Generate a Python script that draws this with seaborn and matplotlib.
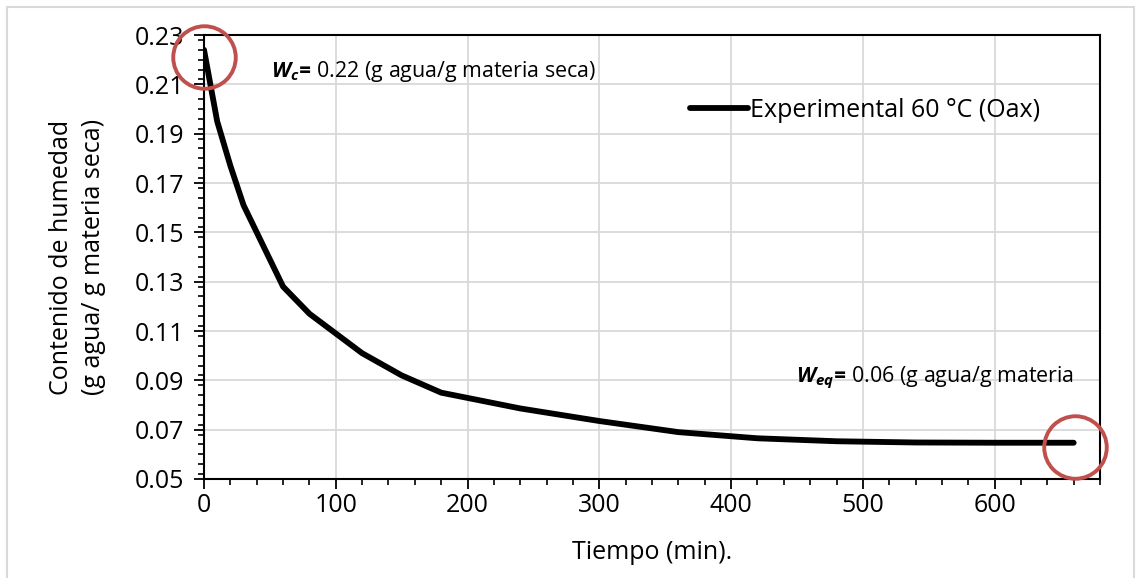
import matplotlib
matplotlib.use("Agg")
import matplotlib.pyplot as plt
import numpy as np
import pandas as pd
import seaborn as sns
from matplotlib.patches import Rectangle
from matplotlib.ticker import MultipleLocator, FormatStrFormatter

# Data
tiempo = [0, 10, 20, 30, 60, 80, 120, 150, 180, 240, 300, 360, 420, 480, 540, 600, 660]
humedad = [0.224, 0.195, 0.177, 0.161, 0.128, 0.117, 0.101, 0.092, 0.085, 0.0786,
           0.0735, 0.069, 0.0665, 0.0653, 0.0648, 0.0647, 0.0647]
circulo_t = [0, 661]
circulo_w = [0.221, 0.0629]
serie = "Experimental 60 °C (Oax)"

df = pd.DataFrame({"Tiempo": tiempo, "Humedad": humedad, "Serie": serie})

sns.set_style("white")
FONT = "Open Sans"
plt.rcParams["font.family"] = [FONT, "DejaVu Sans"]
plt.rcParams["text.color"] = "black"
plt.rcParams["axes.labelcolor"] = "black"
plt.rcParams["mathtext.fontset"] = "custom"
plt.rcParams["mathtext.rm"] = FONT
plt.rcParams["mathtext.it"] = FONT + ":italic"
plt.rcParams["mathtext.bf"] = FONT + ":bold"
plt.rcParams["mathtext.bfit"] = FONT + ":italic:bold"

fig = plt.figure(figsize=(11.41, 5.78), dpi=100)
ax = fig.add_axes([0.1788, 0.1713, 0.9641 - 0.1788, 0.9394 - 0.1713])

sns.lineplot(data=df, x="Tiempo", y="Humedad", hue="Serie", palette=["black"],
             linewidth=4.2, ax=ax, solid_capstyle="round")

ax.plot(circulo_t, circulo_w, linestyle="none", marker="o", markersize=45,
        markerfacecolor="none", markeredgecolor="#C0504D", markeredgewidth=2.8,
        clip_on=False, zorder=5)

ax.set_xlim(0, 680)
ax.set_ylim(0.05, 0.23)
ax.xaxis.set_minor_locator(MultipleLocator(20))
ax.yaxis.set_minor_locator(MultipleLocator(0.004))
ax.yaxis.set_major_formatter(FormatStrFormatter("%.2f"))
ax.set_xticks([0, 100, 200, 300, 400, 500, 600])
ax.set_yticks(np.arange(0.05, 0.2301, 0.02))

ax.grid(True, which="major", color="#d9d9d9", linewidth=1.3)
ax.set_axisbelow(True)
for s in ax.spines.values():
    s.set_color("black")
    s.set_linewidth(1.5)

ax.tick_params(which="major", direction="out", length=7, width=1.3, labelsize=18,
               colors="black", pad=7)
ax.tick_params(axis="x", which="major", pad=3)
ax.tick_params(which="minor", direction="out", length=4, width=1.2, colors="black")
ax.tick_params(axis="y", which="both", left=True)
ax.tick_params(axis="x", which="both", bottom=True)

ax.set_xlabel("Tiempo (min).", fontsize=18, labelpad=16)
ax.set_ylabel("Contenido de humedad\n(g agua/ g materia seca)", fontsize=18, labelpad=21,
              linespacing=1.35)

ax.text(51, 0.2154, r"$\mathbfit{W_c}\!\mathbfit{=}\!$ 0.22 (g agua/g materia seca)",
        fontsize=15.4, va="center", ha="left")
ax.text(449, 0.0911, r"$\mathbfit{W_{eq}}\!\mathbfit{=}\!$ 0.06 (g agua/g materia",
        fontsize=15.4, va="center", ha="left")

ax.legend(loc="center left", bbox_to_anchor=(0.5424, 0.831), frameon=False,
          fontsize=18, handlelength=2.3, handletextpad=0.1, borderpad=0,
          borderaxespad=0, title=None)

fig.add_artist(Rectangle((0.006, -0.02), 0.988, 1.008, transform=fig.transFigure,
                         fill=False, edgecolor="#d9d9d9", linewidth=1.5))

fig.savefig("out.png", dpi=100)
